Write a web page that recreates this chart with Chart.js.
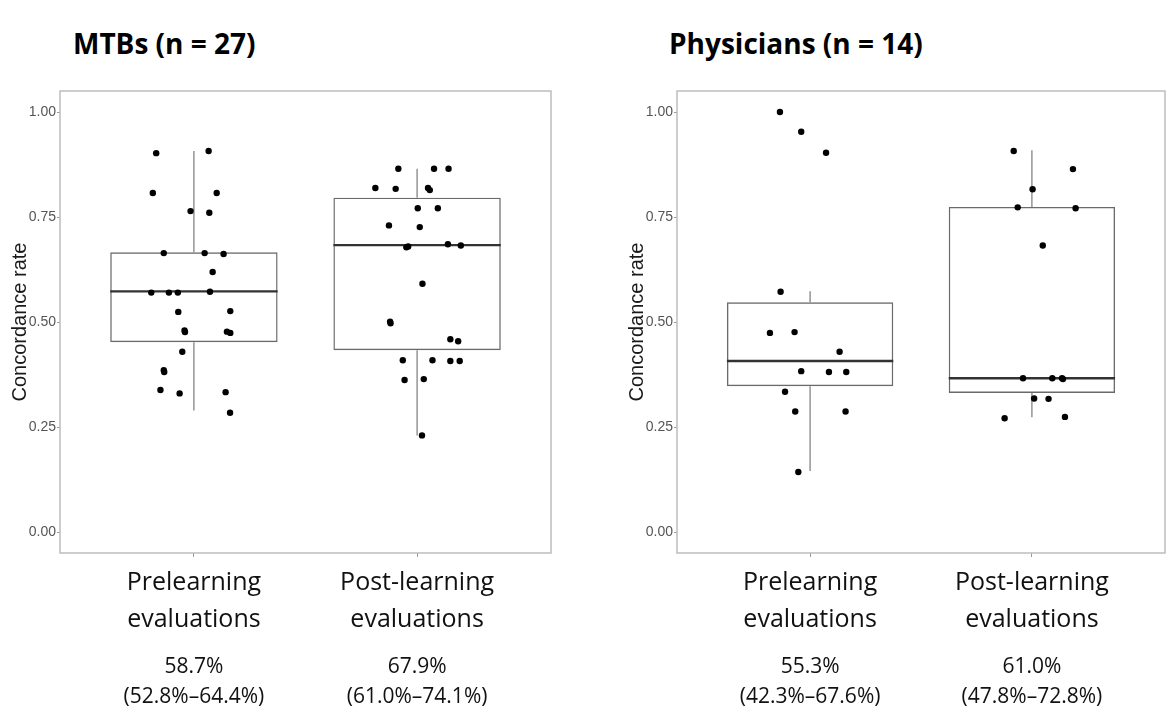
<!DOCTYPE html>
<html>
<head>
<meta charset="utf-8">
<script src="https://cdn.jsdelivr.net/npm/chart.js@4.4.0/dist/chart.umd.min.js"></script>
<style>
    body { margin: 0; background: #fff; width: 1167px; height: 715px; overflow: hidden; position: relative; }
    .panel { position: absolute; top: 0; }
    .title { position: absolute; top: 29px; line-height: 28px; font-family: 'Open Sans', sans-serif; font-weight: bold; font-size: 28px; color: #000; white-space: nowrap; }
</style>
</head>
<body>
<div class="title" style="left:73px">MTBs (n = 27)</div>
<div class="title" style="left:669px">Physicians (n = 14)</div>
<canvas id="mtbChart" class="panel" width="583" height="715" style="left:0"></canvas>
<canvas id="physChart" class="panel" width="552" height="715" style="left:617px"></canvas>
<script>
// 카테고리 / 눈금
const categories = [['Prelearning', 'evaluations'], ['Post-learning', 'evaluations']];
const yTicks = [0, 0.25, 0.5, 0.75, 1];

// MTBs - 개별 점 (값, 가로 지터)
const mtbPre = [0.902, 0.907, 0.807, 0.807, 0.764, 0.760, 0.664, 0.664, 0.662, 0.619, 0.570, 0.570, 0.570, 0.572,
    0.524, 0.526, 0.480, 0.476, 0.477, 0.474, 0.429, 0.385, 0.381, 0.338, 0.330, 0.333, 0.284];
const mtbPreJitter = [-0.169, 0.066, -0.184, 0.102, -0.015, 0.069, -0.135, 0.048, 0.133, 0.084, -0.191, -0.112, -0.072, 0.072,
    -0.070, 0.163, -0.042, -0.040, 0.148, 0.163, -0.052, -0.135, -0.133, -0.150, -0.064, 0.142, 0.162];
const mtbPost = [0.865, 0.865, 0.865, 0.819, 0.817, 0.819, 0.814, 0.771, 0.771, 0.730, 0.726, 0.678, 0.680, 0.685,
    0.682, 0.591, 0.501, 0.497, 0.459, 0.454, 0.409, 0.409, 0.407, 0.407, 0.362, 0.364, 0.230];
const mtbPostJitter = [-0.084, 0.076, 0.141, -0.187, -0.096, 0.049, 0.057, 0.003, 0.093, -0.126, 0.012, -0.048, -0.040, 0.138,
    0.196, 0.024, -0.121, -0.119, 0.149, 0.184, -0.064, 0.069, 0.149, 0.191, -0.056, 0.030, 0.022];

// MTBs - 박스 통계
const mtbLow = [0.289, 0.230];
const mtbQ1 = [0.452, 0.433];
const mtbMedian = [0.573, 0.683];
const mtbQ3 = [0.666, 0.796];
const mtbHigh = [0.907, 0.865];
const mtbMean = [58.7, 67.9];
const mtbCiLow = [52.8, 61.0];
const mtbCiHigh = [64.4, 74.1];

// Physicians - 개별 점
const physPre = [1.000, 0.953, 0.903, 0.572, 0.474, 0.476, 0.429, 0.383, 0.381, 0.381, 0.334, 0.287, 0.287, 0.143];
const physPreJitter = [-0.136, -0.040, 0.072, -0.133, -0.181, -0.070, 0.133, -0.040, 0.085, 0.163, -0.113, -0.067, 0.160, -0.053];
const physPost = [0.907, 0.864, 0.816, 0.773, 0.771, 0.682, 0.366, 0.366, 0.366, 0.364, 0.318, 0.317, 0.271, 0.274];
const physPostJitter = [-0.082, 0.185, 0.003, -0.064, 0.197, 0.049, -0.040, 0.092, 0.136, 0.140, 0.010, 0.075, -0.123, 0.149];

// Physicians - 박스 통계
const physLow = [0.145, 0.273];
const physQ1 = [0.347, 0.331];
const physMedian = [0.407, 0.366];
const physQ3 = [0.547, 0.774];
const physHigh = [0.573, 0.909];
const physMean = [55.3, 61.0];
const physCiLow = [42.3, 47.8];
const physCiHigh = [67.6, 72.8];

const BOX_HALF = 0.375;

// 패널 테두리
const framePlugin = {
    id: 'frame',
    beforeDatasetsDraw(chart) {
        const { ctx, chartArea: a } = chart;
        ctx.save();
        ctx.strokeStyle = '#bdbdbd';
        ctx.lineWidth = 1.5;
        ctx.strokeRect(a.left, a.top, a.right - a.left, a.bottom - a.top);
        ctx.restore();
    }
};

// 평균 (95% CI) 문구
const summaryPlugin = {
    id: 'summary',
    afterDraw(chart, args, opts) {
        const { ctx } = chart;
        const x = chart.scales.x;
        ctx.save();
        ctx.fillStyle = '#111';
        ctx.font = "21px 'Open Sans', sans-serif";
        ctx.textAlign = 'center';
        ctx.textBaseline = 'middle';
        opts.mean.forEach((m, i) => {
            const px = x.getPixelForValue(i + 1);
            ctx.fillText(m.toFixed(1) + '%', px, 667);
            ctx.fillText('(' + opts.lo[i].toFixed(1) + '%–' + opts.hi[i].toFixed(1) + '%)', px, 697);
        });
        ctx.restore();
    }
};

function pointsData(values, jitter, pos) {
    return values.map((v, j) => ({ x: pos + jitter[j], y: v }));
}

function buildChart(id, pre, preJit, post, postJit, low, q1, med, q3, high, mean, ciLo, ciHi, rightPad) {
    const whiskers = [];
    const medians = [];
    q1.forEach((q, i) => {
        const c = i + 1;
        // y: null 로 선분 끊기
        whiskers.push({ x: c, y: q3[i] }, { x: c, y: high[i] }, { x: c, y: null },
            { x: c, y: q }, { x: c, y: low[i] }, { x: c, y: null });
        medians.push({ x: c - BOX_HALF, y: med[i] }, { x: c + BOX_HALF, y: med[i] }, { x: c, y: null });
    });

    new Chart(document.getElementById(id), {
        type: 'scatter',
        data: {
            datasets: [
                {
                    type: 'scatter',
                    data: pointsData(pre, preJit, 1).concat(pointsData(post, postJit, 2)),
                    backgroundColor: '#000',
                    borderWidth: 0,
                    pointRadius: 3.2,
                    order: 0
                },
                {
                    type: 'line',
                    data: medians,
                    borderColor: '#333',
                    borderWidth: 2.4,
                    pointRadius: 0,
                    spanGaps: false,
                    order: 1
                },
                {
                    type: 'line',
                    data: whiskers,
                    borderColor: '#7a7a7a',
                    borderWidth: 1.2,
                    pointRadius: 0,
                    spanGaps: false,
                    order: 2
                },
                {
                    type: 'bar',
                    data: q1.map((q, i) => ({ x: i + 1, y: [q, q3[i]] })),
                    backgroundColor: 'rgba(255,255,255,0)',
                    borderColor: '#6a6a6a',
                    borderWidth: 1.4,
                    borderSkipped: false,
                    barPercentage: 0.75,
                    categoryPercentage: 1,
                    order: 3
                }
            ]
        },
        options: {
            responsive: false,
            animation: false,
            devicePixelRatio: 1,
            layout: { padding: { top: 91, right: rightPad, bottom: 0, left: 0 } },
            plugins: {
                legend: { display: false },
                tooltip: { enabled: false },
                summary: { mean: mean, lo: ciLo, hi: ciHi }
            },
            scales: {
                x: {
                    type: 'linear',
                    min: 0.4,
                    max: 2.6,
                    offset: false,
                    afterFit: s => { s.height = 162; },
                    afterBuildTicks: s => { s.ticks = categories.map((c, i) => ({ value: i + 1 })); },
                    grid: { offset: false, drawOnChartArea: false, drawTicks: true, tickLength: 4, tickColor: '#999' },
                    border: { display: false },
                    ticks: {
                        padding: 7,
                        color: '#111',
                        font: { family: "'Open Sans', sans-serif", size: 25, lineHeight: 1.48 },
                        callback: v => categories[v - 1]
                    }
                },
                y: {
                    min: -0.05,
                    max: 1.05,
                    afterFit: s => { s.width = 60; },
                    afterBuildTicks: s => { s.ticks = yTicks.map(v => ({ value: v })); },
                    grid: { drawOnChartArea: false, drawTicks: true, tickLength: 3, tickColor: '#999' },
                    border: { display: false },
                    title: {
                        display: true,
                        text: 'Concordance rate',
                        color: '#1a1a1a',
                        font: { family: "'Liberation Sans', Arial, sans-serif", size: 20 },
                        padding: { top: 8, bottom: 0 }
                    },
                    ticks: {
                        padding: 1,
                        color: '#555',
                        font: { family: "'Liberation Sans', Arial, sans-serif", size: 14 },
                        callback: v => v.toFixed(2)
                    }
                }
            }
        },
        plugins: [framePlugin, summaryPlugin]
    });
}

buildChart('mtbChart', mtbPre, mtbPreJitter, mtbPost, mtbPostJitter,
    mtbLow, mtbQ1, mtbMedian, mtbQ3, mtbHigh, mtbMean, mtbCiLow, mtbCiHigh, 32);
buildChart('physChart', physPre, physPreJitter, physPost, physPostJitter,
    physLow, physQ1, physMedian, physQ3, physHigh, physMean, physCiLow, physCiHigh, 0);
</script>
</body>
</html>
